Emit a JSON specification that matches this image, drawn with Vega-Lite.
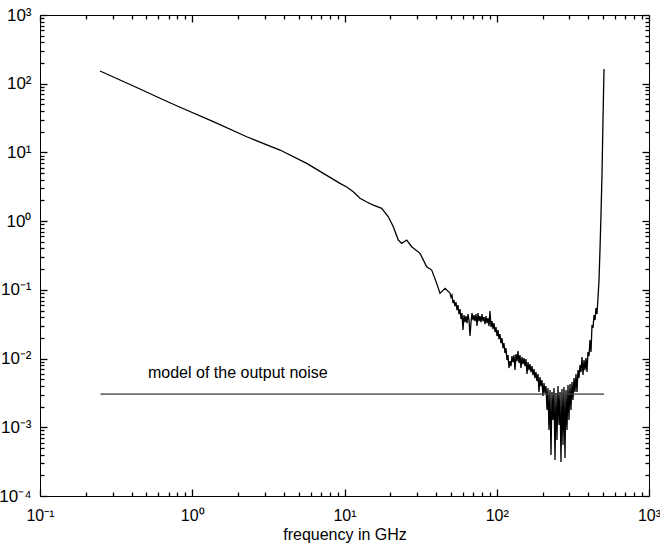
{
  "$schema": "https://vega.github.io/schema/vega-lite/v6.json",
  "width": 609,
  "height": 481,
  "autosize": "none",
  "padding": {"left": 40, "top": 15, "right": 11, "bottom": 48},
  "background": "white",
  "config": {
    "view": {"stroke": "black", "strokeWidth": 1},
    "axis": {
      "zindex": 2,
      "ticks": true,
      "domain": false,
      "tickColor": "black",
      "tickWidth": 1.3,
      "labelColor": "black",
      "grid": false,
      "labelFont": "Liberation Sans",
      "labelFontSize": 16,
      "titleFont": "Liberation Sans",
      "titleFontSize": 16,
      "titleFontWeight": "normal",
      "titleColor": "black"
    }
  },
  "datasets": {
    "model": [
      {"f": 0.25, "p": 0.00304},
      {"f": 506, "p": 0.00304}
    ],
    "label": [
      {"f": 0.512, "p": 0.0052, "t": "model of the output noise"}
    ],
    "spectrum": [
      {"f": 0.248, "p": 153}, {"f": 0.3354, "p": 113.2}, {"f": 0.4536, "p": 83.8}, {"f": 0.614, "p": 61.5},
      {"f": 0.831, "p": 45.4}, {"f": 1.375, "p": 28.0}, {"f": 2.278, "p": 16.9}, {"f": 3.771, "p": 10.84},
      {"f": 5.646, "p": 6.94}, {"f": 8.03, "p": 4.34}, {"f": 9.34, "p": 3.55}, {"f": 10.34, "p": 3.14},
      {"f": 11.42, "p": 2.68}, {"f": 12.64, "p": 2.15}, {"f": 14.0, "p": 1.897}, {"f": 15.46, "p": 1.715},
      {"f": 17.55, "p": 1.536}, {"f": 19.4, "p": 1.159}, {"f": 20.92, "p": 0.829}, {"f": 22.56, "p": 0.531},
      {"f": 23.75, "p": 0.475}, {"f": 25.62, "p": 0.531}, {"f": 27.63, "p": 0.424}, {"f": 31.33, "p": 0.34},
      {"f": 34.67, "p": 0.217}, {"f": 37.38, "p": 0.194}, {"f": 40.33, "p": 0.1243}, {"f": 42.4, "p": 0.0889},
      {"f": 45.73, "p": 0.1051},
      {"f": 49.3, "p": 0.08983}, {"f": 50.05, "p": 0.07856}, {"f": 50.81, "p": 0.084}, {"f": 51.59, "p": 0.06426},
      {"f": 52.38, "p": 0.07105}, {"f": 53.17, "p": 0.05811}, {"f": 53.98, "p": 0.06644}, {"f": 54.81, "p": 0.05082},
      {"f": 55.64, "p": 0.06009}, {"f": 56.49, "p": 0.04444}, {"f": 57.35, "p": 0.05256}, {"f": 58.23, "p": 0.03759},
      {"f": 59.11, "p": 0.04596}, {"f": 60.01, "p": 0.02599}, {"f": 60.93, "p": 0.04298}, {"f": 61.86, "p": 0.03399},
      {"f": 62.8, "p": 0.04156}, {"f": 63.76, "p": 0.03287}, {"f": 64.73, "p": 0.04444}, {"f": 65.71, "p": 0.03634},
      {"f": 66.74, "p": 0.02127}, {"f": 67.76, "p": 0.03399}, {"f": 68.79, "p": 0.04596}, {"f": 69.84, "p": 0.03634},
      {"f": 70.9, "p": 0.04298}, {"f": 71.98, "p": 0.03515}, {"f": 73.08, "p": 0.04444}, {"f": 74.19, "p": 0.02973},
      {"f": 75.32, "p": 0.04596}, {"f": 76.47, "p": 0.03515}, {"f": 77.62, "p": 0.04156}, {"f": 78.8, "p": 0.03399},
      {"f": 80.01, "p": 0.04444}, {"f": 81.23, "p": 0.03515}, {"f": 82.46, "p": 0.04019}, {"f": 83.72, "p": 0.03179},
      {"f": 85.0, "p": 0.04156}, {"f": 86.29, "p": 0.03287}, {"f": 87.61, "p": 0.03887}, {"f": 88.94, "p": 0.02973},
      {"f": 90.29, "p": 0.04914}, {"f": 91.67, "p": 0.02875}, {"f": 93.06, "p": 0.03515}, {"f": 94.48, "p": 0.02689},
      {"f": 95.92, "p": 0.03287}, {"f": 97.38, "p": 0.02432}, {"f": 98.87, "p": 0.02875}, {"f": 100.4, "p": 0.02127},
      {"f": 101.9, "p": 0.02599}, {"f": 103.4, "p": 0.01923}, {"f": 105.0, "p": 0.02274}, {"f": 106.6, "p": 0.01682},
      {"f": 108.2, "p": 0.01989}, {"f": 109.9, "p": 0.01422}, {"f": 111.5, "p": 0.01682}, {"f": 113.2, "p": 0.01203},
      {"f": 115.0, "p": 0.01422}, {"f": 116.7, "p": 0.00951}, {"f": 118.5, "p": 0.01124}, {"f": 120.3, "p": 0.007273},
      {"f": 122.2, "p": 0.009197}, {"f": 124.0, "p": 0.007778}, {"f": 125.9, "p": 0.01088}, {"f": 127.8, "p": 0.008894},
      {"f": 129.8, "p": 0.01124}, {"f": 131.8, "p": 0.006802}, {"f": 133.8, "p": 0.01163}, {"f": 135.8, "p": 0.009197},
      {"f": 137.9, "p": 0.01286}, {"f": 140.0, "p": 0.008601}, {"f": 142.1, "p": 0.01124}, {"f": 144.3, "p": 0.007273},
      {"f": 146.5, "p": 0.01052}, {"f": 148.7, "p": 0.008317}, {"f": 151.0, "p": 0.01017}, {"f": 153.3, "p": 0.007778},
      {"f": 155.6, "p": 0.009834}, {"f": 158.0, "p": 0.005949}, {"f": 160.4, "p": 0.008894}, {"f": 162.8, "p": 0.006802},
      {"f": 165.3, "p": 0.008317}, {"f": 167.8, "p": 0.006362}, {"f": 170.4, "p": 0.007778}, {"f": 173.0, "p": 0.005753},
      {"f": 175.6, "p": 0.007034}, {"f": 178.3, "p": 0.005203}, {"f": 181.0, "p": 0.006362}, {"f": 183.8, "p": 0.004705},
      {"f": 186.6, "p": 0.005949}, {"f": 189.4, "p": 0.003254}, {"f": 192.3, "p": 0.00538}, {"f": 195.2, "p": 0.003979},
      {"f": 198.2, "p": 0.004865}, {"f": 201.2, "p": 0.002846}, {"f": 204.3, "p": 0.0044}, {"f": 207.4, "p": 0.003147},
      {"f": 210.6, "p": 0.003979}, {"f": 213.8, "p": 0.00178}, {"f": 217.0, "p": 0.003721}, {"f": 220.3, "p": 0.0009105},
      {"f": 223.7, "p": 0.00348}, {"f": 227.1, "p": 0.0003939}, {"f": 230.6, "p": 0.003254}, {"f": 234.1, "p": 0.001274},
      {"f": 237.6, "p": 0.003721}, {"f": 241.3, "p": 0.0003332}, {"f": 244.9, "p": 0.003147}, {"f": 248.7, "p": 0.0006512},
      {"f": 252.5, "p": 0.003979}, {"f": 256.3, "p": 0.001077}, {"f": 260.2, "p": 0.003254}, {"f": 264.2, "p": 0.0003116},
      {"f": 268.2, "p": 0.003598}, {"f": 272.3, "p": 0.0005508}, {"f": 276.4, "p": 0.003848}, {"f": 280.6, "p": 0.0003562},
      {"f": 284.9, "p": 0.00348}, {"f": 289.3, "p": 0.0009105}, {"f": 293.7, "p": 0.004115}, {"f": 298.1, "p": 0.001274},
      {"f": 302.7, "p": 0.004255}, {"f": 307.3, "p": 0.00178}, {"f": 312.0, "p": 0.00455}, {"f": 316.8, "p": 0.002489},
      {"f": 321.6, "p": 0.005203}, {"f": 326.5, "p": 0.003254}, {"f": 331.5, "p": 0.005949}, {"f": 336.5, "p": 0.003254},
      {"f": 341.7, "p": 0.006802}, {"f": 346.9, "p": 0.005203}, {"f": 352.2, "p": 0.008043}, {"f": 357.6, "p": 0.006362},
      {"f": 363.0, "p": 0.01052}, {"f": 368.6, "p": 0.005753}, {"f": 374.2, "p": 0.00951}, {"f": 379.9, "p": 0.006802},
      {"f": 385.7, "p": 0.01017}, {"f": 391.5, "p": 0.006362}, {"f": 397.5, "p": 0.01244}, {"f": 403.6, "p": 0.01088},
      {"f": 409.7, "p": 0.01859}, {"f": 416.0, "p": 0.01244}, {"f": 422.3, "p": 0.03074}, {"f": 428.7, "p": 0.0278},
      {"f": 435.3, "p": 0.04298}, {"f": 441.9, "p": 0.03634}, {"f": 448.6, "p": 0.05434}, {"f": 455.5, "p": 0.04444},
      {"f": 462.4, "p": 0.07598}, {"f": 469.5, "p": 0.1389}, {"f": 476.5, "p": 0.38}, {"f": 483.8, "p": 1.227},
      {"f": 491.2, "p": 4.689}, {"f": 498.7, "p": 29.62}, {"f": 506.3, "p": 163.7}
    ]
  },
  "layer": [
    {
      "data": {"name": "model"},
      "mark": {"type": "line", "color": "#555555", "strokeWidth": 1},
      "encoding": {
        "x": {
          "field": "f", "type": "quantitative",
          "scale": {"type": "log", "domain": [0.1, 1000], "nice": false},
          "axis": {
            "orient": "bottom",
            "values": [0.1, 1, 10, 100, 1000],
            "labelExpr": "datum.value == 0.1 ? '10⁻¹' : datum.value == 1 ? '10⁰' : datum.value == 10 ? '10¹' : datum.value == 100 ? '10²' : '10³'",
            "offset": -7,
            "tickSize": 7,
            "labelPadding": 11,
            "labelFlush": false,
            "labelOverlap": false,
            "title": "frequency in GHz",
            "titlePadding": 3
          }
        },
        "y": {
          "field": "p", "type": "quantitative",
          "scale": {"type": "log", "domain": [0.0001, 1000], "nice": false},
          "axis": {
            "orient": "left",
            "values": [0.0001, 0.001, 0.01, 0.1, 1, 10, 100, 1000],
            "labelExpr": "datum.value == 0.0001 ? '10⁻⁴' : datum.value == 0.001 ? '10⁻³' : datum.value == 0.01 ? '10⁻²' : datum.value == 0.1 ? '10⁻¹' : datum.value == 1 ? '10⁰' : datum.value == 10 ? '10¹' : datum.value == 100 ? '10²' : '10³'",
            "labelFontSize": 17,
            "offset": -7,
            "tickSize": 7,
            "labelPadding": 9,
            "labelFlush": false,
            "labelOverlap": false,
            "title": null
          }
        }
      }
    },
    {
      "data": {"name": "spectrum"},
      "mark": {"type": "line", "color": "black", "strokeWidth": 1.3},
      "encoding": {
        "x": {
          "field": "f", "type": "quantitative",
          "scale": {"type": "log", "domain": [0.1, 1000], "nice": false},
          "axis": {
            "orient": "top",
            "values": [0.1, 1, 10, 100, 1000],
            "labels": false,
            "offset": -7,
            "tickSize": 7,
            "title": null
          }
        },
        "y": {
          "field": "p", "type": "quantitative",
          "scale": {"type": "log", "domain": [0.0001, 1000], "nice": false},
          "axis": {
            "orient": "right",
            "values": [0.0001, 0.001, 0.01, 0.1, 1, 10, 100, 1000],
            "labels": false,
            "offset": -7,
            "tickSize": 7,
            "title": null
          }
        }
      }
    },
    {
      "data": {"name": "label"},
      "mark": {"type": "text", "align": "left", "baseline": "alphabetic", "font": "Liberation Sans", "fontSize": 16, "color": "black"},
      "encoding": {
        "x": {
          "field": "f", "type": "quantitative",
          "scale": {"type": "log", "domain": [0.1, 1000], "nice": false},
          "axis": {
            "orient": "bottom",
            "values": [0.2,0.3,0.4,0.5,0.6,0.7,0.8,0.9,2,3,4,5,6,7,8,9,20,30,40,50,60,70,80,90,200,300,400,500,600,700,800,900],
            "labels": false,
            "offset": -4,
            "tickSize": 4,
            "title": null
          }
        },
        "y": {
          "field": "p", "type": "quantitative",
          "scale": {"type": "log", "domain": [0.0001, 1000], "nice": false},
          "axis": {
            "orient": "left",
            "values": [0.0002,0.0003,0.0004,0.0005,0.0006,0.0007,0.0008,0.0009,0.002,0.003,0.004,0.005,0.006,0.007,0.008,0.009,0.02,0.03,0.04,0.05,0.06,0.07,0.08,0.09,0.2,0.3,0.4,0.5,0.6,0.7,0.8,0.9,2,3,4,5,6,7,8,9,20,30,40,50,60,70,80,90,200,300,400,500,600,700,800,900],
            "labels": false,
            "offset": -4,
            "tickSize": 4,
            "title": null
          }
        },
        "text": {"field": "t"}
      }
    },
    {
      "data": {"name": "model"},
      "mark": {"type": "line", "color": "#555555", "strokeWidth": 1},
      "encoding": {
        "x": {
          "field": "f", "type": "quantitative",
          "scale": {"type": "log", "domain": [0.1, 1000], "nice": false},
          "axis": {
            "orient": "top",
            "values": [0.2,0.3,0.4,0.5,0.6,0.7,0.8,0.9,2,3,4,5,6,7,8,9,20,30,40,50,60,70,80,90,200,300,400,500,600,700,800,900],
            "labels": false,
            "offset": -4,
            "tickSize": 4,
            "title": null
          }
        },
        "y": {
          "field": "p", "type": "quantitative",
          "scale": {"type": "log", "domain": [0.0001, 1000], "nice": false},
          "axis": {
            "orient": "right",
            "values": [0.0002,0.0003,0.0004,0.0005,0.0006,0.0007,0.0008,0.0009,0.002,0.003,0.004,0.005,0.006,0.007,0.008,0.009,0.02,0.03,0.04,0.05,0.06,0.07,0.08,0.09,0.2,0.3,0.4,0.5,0.6,0.7,0.8,0.9,2,3,4,5,6,7,8,9,20,30,40,50,60,70,80,90,200,300,400,500,600,700,800,900],
            "labels": false,
            "offset": -4,
            "tickSize": 4,
            "title": null
          }
        }
      }
    }
  ],
  "resolve": {"axis": {"x": "independent", "y": "independent"}}
}
